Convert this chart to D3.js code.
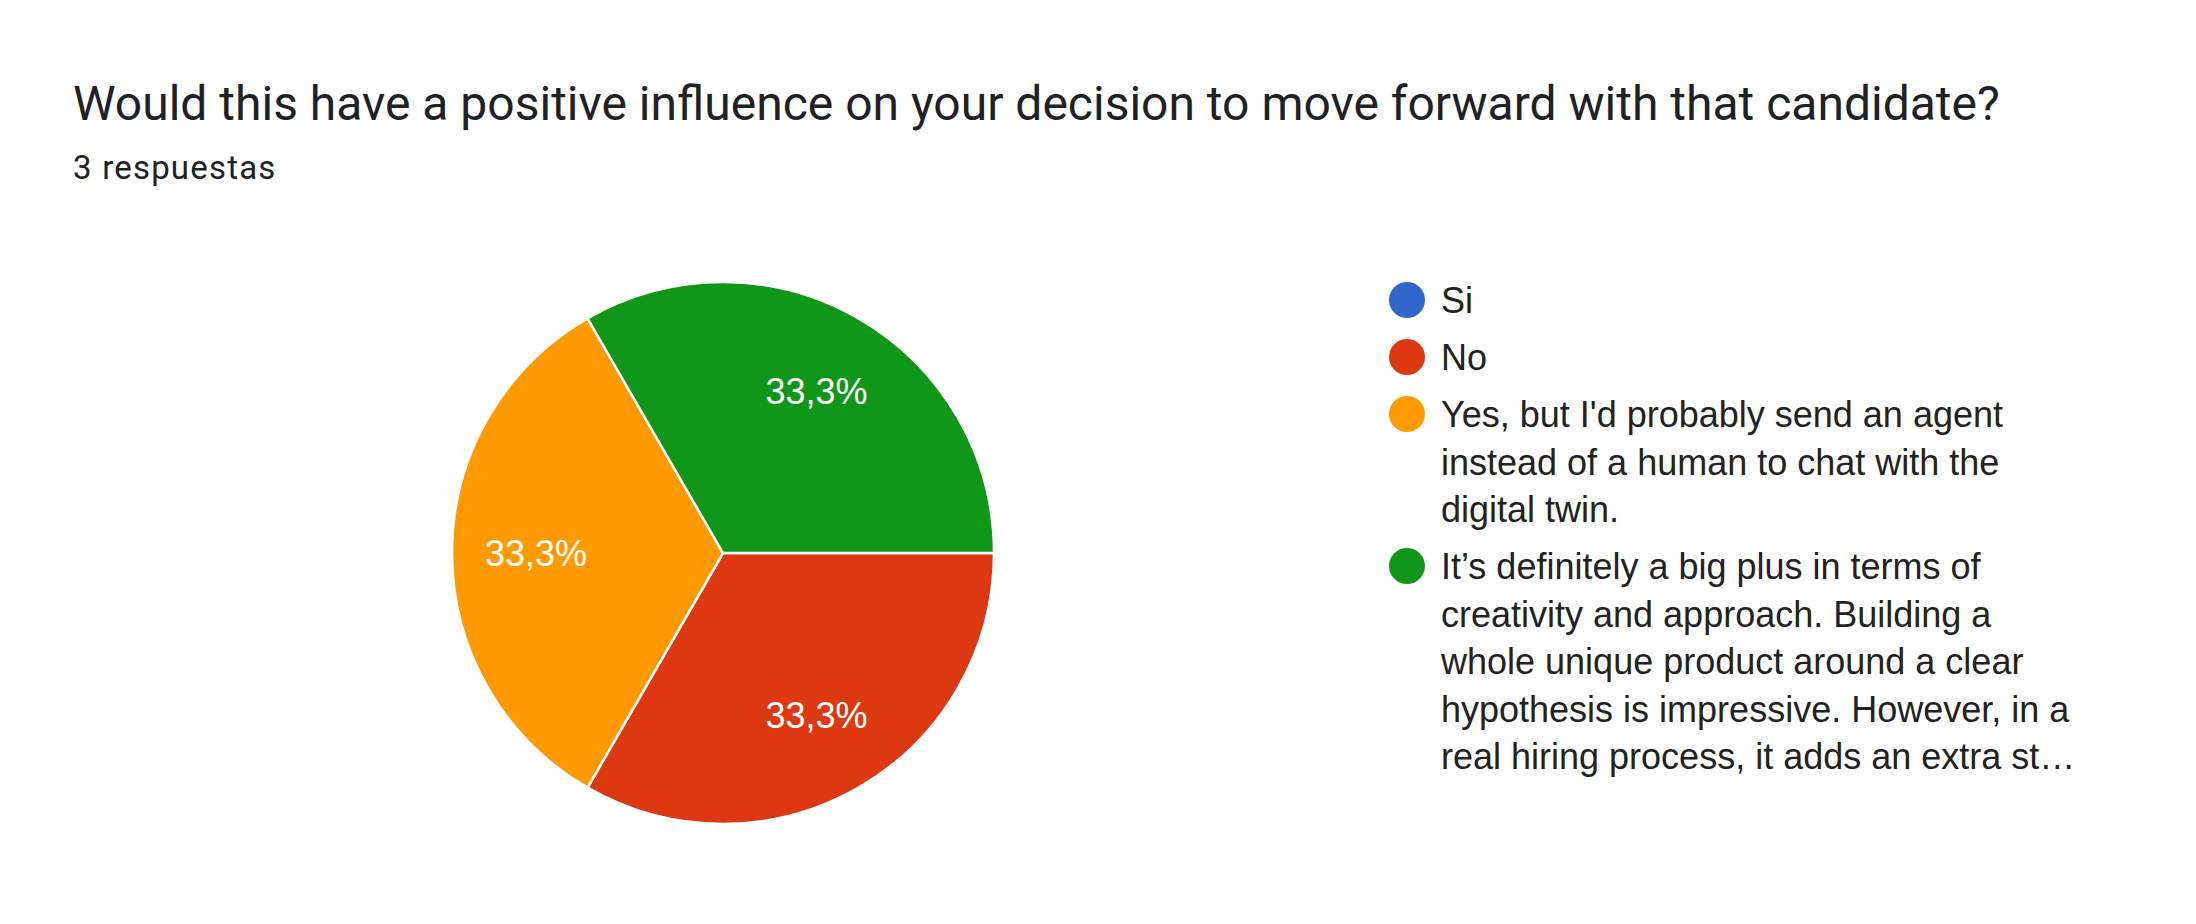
<!DOCTYPE html>
<html>
<head>
<meta charset="utf-8">
<script src="https://cdn.jsdelivr.net/npm/d3@7"></script>
<style>
  body { margin: 0; background: #fff; }
</style>
</head>
<body>
<svg id="chart" width="2196" height="924"></svg>
<script>
// answers, counts and colours as read from the form summary
const categories = ['Si', 'No', "Yes, but I'd probably send an agent instead of a human to chat with the digital twin.", 'It’s definitely a big plus in terms of creativity and approach. Building a whole unique product around a clear hypothesis is impressive. However, in a real hiring process, it adds an extra st…']
const counts = [0, 1, 1, 1]
const colors = ['#3366cc', '#dc3912', '#ff9900', '#109618']
// legend lines as wrapped in the picture
const legend_lines = [
    ['Si'],
    ['No'],
    ["Yes, but I'd probably send an agent", 'instead of a human to chat with the', 'digital twin.'],
    ['It’s definitely a big plus in terms of', 'creativity and approach. Building a', 'whole unique product around a clear', 'hypothesis is impressive. However, in a', 'real hiring process, it adds an extra st…']
]
const title_text = 'Would this have a positive influence on your decision to move forward with that candidate?'
const subtitle_text = '3 respuestas'

const pie_center = { x: 723, y: 553 }
const pie_radius = 271

const svg = d3.select('#chart')

svg.append('text')
    .attr('x', 73)
    .attr('y', 120)
    .attr('font-family', 'Roboto')
    .attr('font-size', '48px')
    .attr('fill', '#202124')
    .text(title_text)

svg.append('text')
    .attr('x', 73)
    .attr('y', 179)
    .attr('font-family', 'Roboto')
    .attr('font-size', '33px')
    .attr('letter-spacing', '1.2px')
    .attr('fill', '#202124')
    .text(subtitle_text)

const total = d3.sum(counts)
const pie = d3.pie()
    .sort(null)
    .value(d => d)
    .startAngle(Math.PI / 2)
    .endAngle(Math.PI / 2 + 2 * Math.PI)

const arcs = pie(counts)
const arc = d3.arc().innerRadius(0).outerRadius(pie_radius)
const label_arc = d3.arc().innerRadius(pie_radius * 0.69).outerRadius(pie_radius * 0.69)

const g = svg.append('g')
    .attr('transform', 'translate(' + pie_center.x + ',' + pie_center.y + ')')

g.selectAll('path')
    .data(arcs.filter(d => d.value > 0))
    .enter()
    .append('path')
    .attr('d', arc)
    .attr('fill', d => colors[d.index])
    .attr('stroke', '#fff')
    .attr('stroke-width', 2.5)

const pct = d3.format('.1f')
g.selectAll('.slice-label')
    .data(arcs.filter(d => d.value > 0))
    .enter()
    .append('text')
    .attr('class', 'slice-label')
    .attr('transform', d => 'translate(' + label_arc.centroid(d) + ')')
    .attr('text-anchor', 'middle')
    .attr('dy', '0.36em')
    .attr('font-family', 'Liberation Sans, Arial')
    .attr('font-size', '36px')
    .attr('fill', '#fff')
    .text(d => pct(d.value / total * 100).replace('.', ',') + '%')

// legend
const legend_x = 1407
const line_height = 47.5
const item_gap = 9.5
let cursor = 313
const legend = svg.append('g')
categories.forEach((c, i) => {
    const item = legend.append('g')
    item.append('circle')
        .attr('cx', legend_x)
        .attr('cy', cursor - 13)
        .attr('r', 18)
        .attr('fill', colors[i])
    item.append('text')
        .attr('font-family', 'Liberation Sans, Arial')
        .attr('font-size', '36px')
        .attr('fill', '#222222')
        .selectAll('tspan')
        .data(legend_lines[i])
        .enter()
        .append('tspan')
        .attr('x', legend_x + 34)
        .attr('y', (d, k) => cursor + k * line_height)
        .text(d => d)
    cursor += legend_lines[i].length * line_height + item_gap
})
</script>
</body>
</html>
